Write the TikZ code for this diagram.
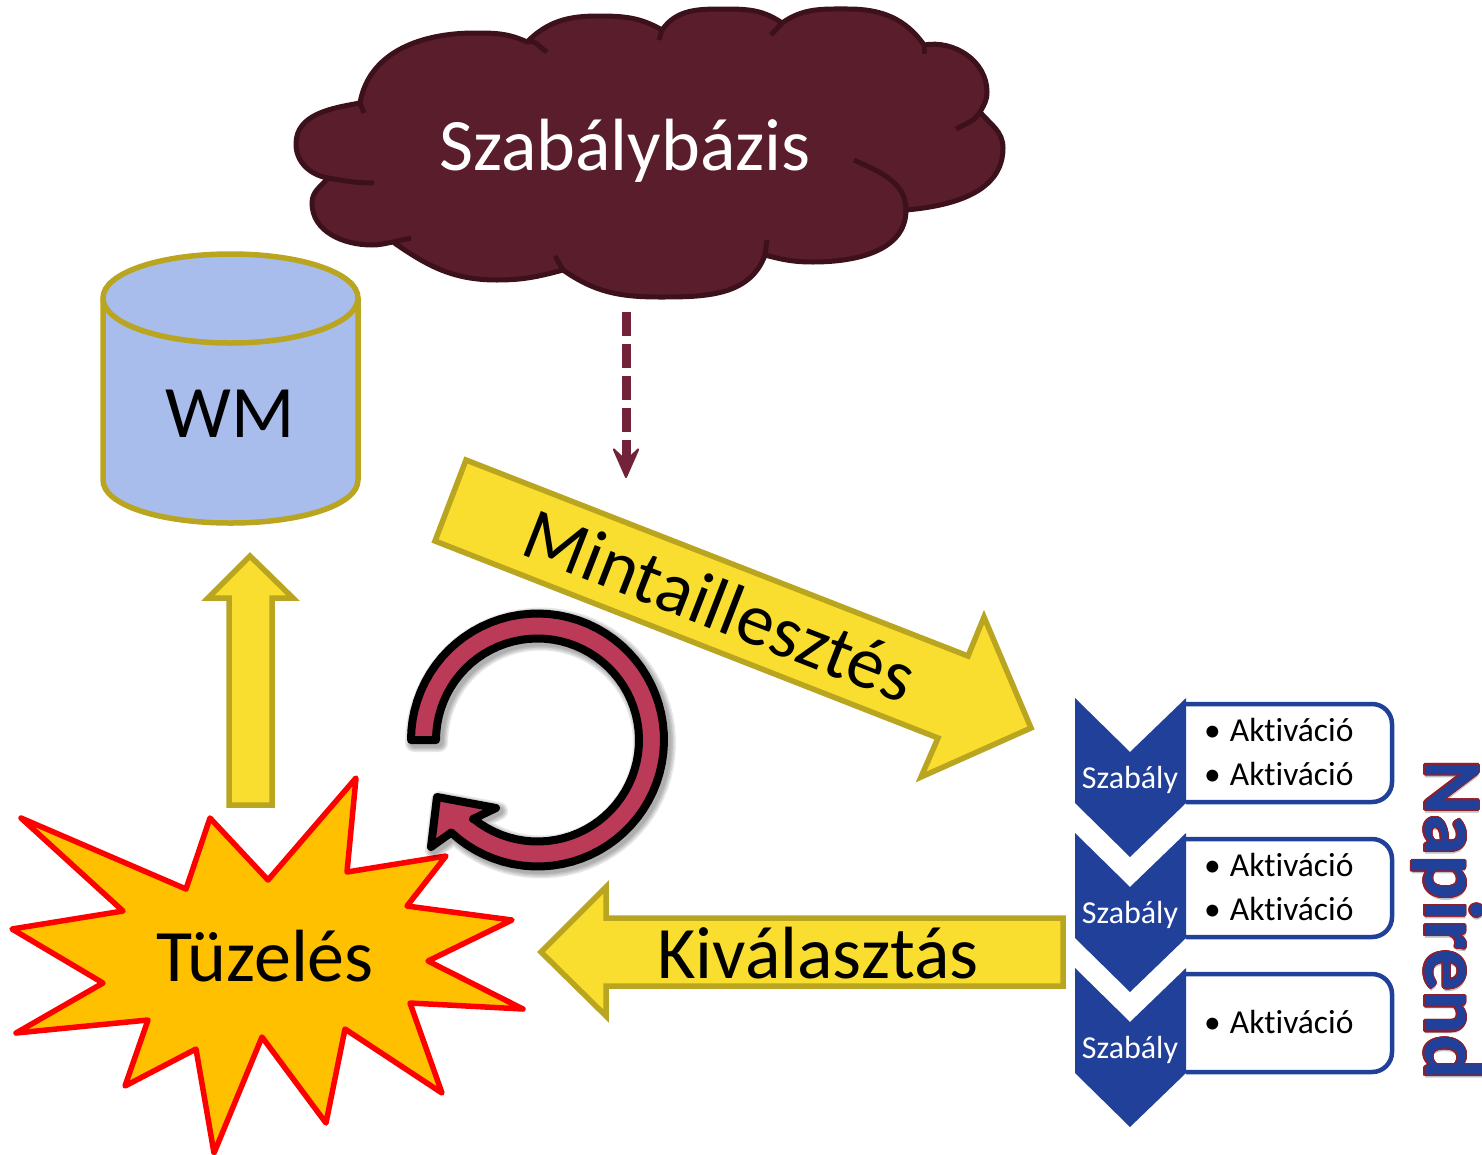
\documentclass[tikz,border=0pt]{standalone}
\usepackage{fontspec}
\setmainfont[Ligatures=NoCommon]{Carlito}
\usepackage{xcolor}
\usepackage[copies]{contour}
\usetikzlibrary{positioning,calc,arrows.meta,shadows}
\definecolor{arrowyellow}{HTML}{F9DE2F}
\definecolor{arrowgold}{HTML}{BAA521}
\definecolor{wmblue}{HTML}{A9BDEC}
\definecolor{agendablue}{HTML}{21409A}
\definecolor{agendared}{HTML}{8E1F2C}
\definecolor{ringred}{HTML}{BA3A58}
\definecolor{cloudfill}{HTML}{591D2B}
\definecolor{cloudline}{HTML}{3D111C}
\definecolor{dashline}{HTML}{722339}
\definecolor{burstfill}{HTML}{FFC000}
\contourlength{1.2pt}
\newcommand{\ringpath}{
	plot[domain=180:493, samples=70] ({537.5+126.5*cos(\x)},{740+126.5*sin(\x)})
	-- (431,847) -- (437,797) -- (496,808) -- (473,819)
	-- plot[domain=489:180, samples=70] ({537.5+101.5*cos(\x)},{740+101.5*sin(\x)}) -- cycle
}
\begin{document}
\begin{tikzpicture}[
					x=1pt, y=-1pt, % pixel coordinates, y down
					block_arrow/.style={
						draw=arrowgold, fill=arrowyellow,
						line width=5.5pt, line join=miter
					},
					cloud_line/.style={
						draw=cloudline, line width=5pt
					},
					rule_box/.style={
						draw=agendablue, fill=white, line width=4.5pt
					},
					rule_label/.style={
						font=\fontsize{32}{32}\selectfont, text=white, inner sep=0pt
					},
					act_label/.style={
						font=\fontsize{33.5}{33.5}\selectfont, anchor=west, inner sep=0pt
					},
					big_label/.style={
						font=\fontsize{74}{74}\selectfont, inner sep=0pt
					}
					]
					\useasboundingbox (0,0) rectangle (1482,1154);
					
					% --- CLOUD ---
					\draw[cloud_line, fill=cloudfill, line join=round]
						(328,178) to[out=170,in=270] (296,144) to[out=90,in=190] (360,103)
						to[out=80,in=180] (475,33) to[out=0,in=155] (527,42)
						to[out=45,in=180] (598,16) to[out=0,in=150] (662,30)
						to[out=55,in=180] (725,9) to[out=0,in=145] (782,23)
						to[out=35,in=180] (848,9) to[out=0,in=125] (924,45)
						to[out=10,in=90] (987,92) to[out=-90,in=60] (980,112)
						to[out=-50,in=90] (1003,148) to[out=-90,in=5] (906,210)
						to[out=-90,in=0] (813,262) to[out=180,in=-15] (765,255)
						to[out=-110,in=0] (660,297) to[out=180,in=-35] (563,270)
						to[out=-165,in=0] (497,280) to[out=180,in=-35] (393,242)
						to[out=-170,in=0] (372,245) to[out=180,in=-90] (312,203)
						to[out=90,in=-130] (328,178) -- cycle;
					\draw[cloud_line] (360,103) -- (364,113);
					\draw[cloud_line] (527,42) to[out=20,in=150] (547,52);
					\draw[cloud_line] (662,30) -- (659,40);
					\draw[cloud_line] (782,23) -- (771,35);
					\draw[cloud_line] (924,45) -- (924,54);
					\draw[cloud_line] (980,112) to[out=-120,in=30] (956,129);
					\draw[cloud_line] (854,160) to[out=-25,in=90] (906,210);
					\draw[cloud_line] (767,240) -- (765,255);
					\draw[cloud_line] (563,270) -- (555,256);
					\draw[cloud_line] (393,242) -- (411,238);
					\draw[cloud_line] (328,178) to[out=-10,in=180] (374,183);
					\node[big_label, text=white] (szabalybazis) at (625,151) {Szabálybázis};
					
					% --- WM ---
					\draw[draw=arrowgold, fill=wmblue, line width=5.5pt]
						(103,298) -- (103,480)
						.. controls (103,505) and (160,523) .. (230.5,523)
						.. controls (301,523) and (358,505) .. (358,480)
						-- (358,298)
						.. controls (358,273) and (301,254) .. (230.5,254)
						.. controls (160,254) and (103,273) .. (103,298) -- cycle;
					\draw[draw=arrowgold, line width=5.5pt]
						(103,298) .. controls (103,323) and (160,343) .. (230.5,343)
						.. controls (301,343) and (358,323) .. (358,298);
					\node[big_label] (wm) at (230.5,414) {WM};
					
					% --- DASHED ARROW ---
					\coordinate (rules_out) at (626,312);
					\coordinate (rules_in) at (626,478);
					\draw[dashline, line width=9pt, dash pattern=on 24pt off 8pt,
						-{Stealth[length=34pt,width=30pt,inset=14pt,round,line width=2pt]}] (rules_out) -- (rules_in);
					
					% --- BLOCK ARROWS ---
					\draw[block_arrow] (229,805) -- (229,598) -- (208,598) -- (250,556) -- (293,598) -- (272,598) -- (272,805) -- cycle;
					\draw[block_arrow] (466,460) -- (435,541) -- (938,738) -- (921,777) -- (1031,728) -- (984,617) -- (968,656) -- cycle;
					\node[big_label, rotate=-21.3] (mintaillesztes) at (720,605) {Mintaillesztés};
					\draw[block_arrow] (606,887) -- (541,952) -- (606,1016) -- (606,986) -- (1063,986) -- (1063,918) -- (606,918) -- cycle;
					\node[big_label] (kivalasztas) at (818,953) {Kiválasztás};
					
					% --- BURST ---
					\draw[draw=red, fill=burstfill, line width=5.5pt, line join=round]
						(21,818) -- (123,911) -- (12,929) -- (103,983) -- (16,1033) -- (148,1020)
						-- (125,1086) -- (196,1049) -- (214,1153) -- (262,1037) -- (326,1123) -- (345,1029)
						-- (442,1093) -- (410,1003) -- (523,1009) -- (428,961) -- (512,920) -- (407,906)
						-- (446,856) -- (347,872) -- (356,778) -- (268,880) -- (210,818) -- (186,889) -- cycle;
					\node[big_label] (tuzeles) at (265,956) {Tüzelés};
					
					% --- CYCLE ---
					\foreach \w in {18,15,12,9} {
						\draw[black, opacity=.09, line width=\w pt, line join=round, xshift=3pt, yshift=-3pt] \ringpath;
					}
					\draw[draw=black, fill=ringred, line width=8pt, line join=round] \ringpath;
					
					% --- AGENDA ---
					\foreach \i/\dy in {1/0, 2/135, 3/270} {
						\draw[rule_box] (1186,704+\dy) -- (1372,704+\dy) to[out=0,in=90] (1392,724+\dy) -- (1392,782+\dy) to[out=-90,in=0] (1372,802+\dy) -- (1186,802+\dy);
						\fill[agendablue] (1075,698+\dy) -- (1130,752+\dy) -- (1186,698+\dy) -- (1186,803+\dy) -- (1130,857+\dy) -- (1075,803+\dy) -- cycle;
						\node[rule_label] (rule-\i) at (1130,780+\dy) {Szabály};
					}
					\foreach \y [count=\i] in {730, 774, 865, 909, 1022} {
						\node[act_label] (act-\i) at (1204,\y) {•\hspace{9pt}Aktiváció};
					}
					\node[rotate=-90, font=\fontsize{83}{83}\selectfont\bfseries, inner sep=0pt, text=black, text opacity=.25] (napirend-shadow) at (1448.5,923) {Napirend};
					\node[rotate=-90, font=\fontsize{83}{83}\selectfont\bfseries, inner sep=0pt, text=agendablue] (napirend) at (1447,920) {\contour{agendared}{Napirend}};
					
				\end{tikzpicture}
\end{document}
